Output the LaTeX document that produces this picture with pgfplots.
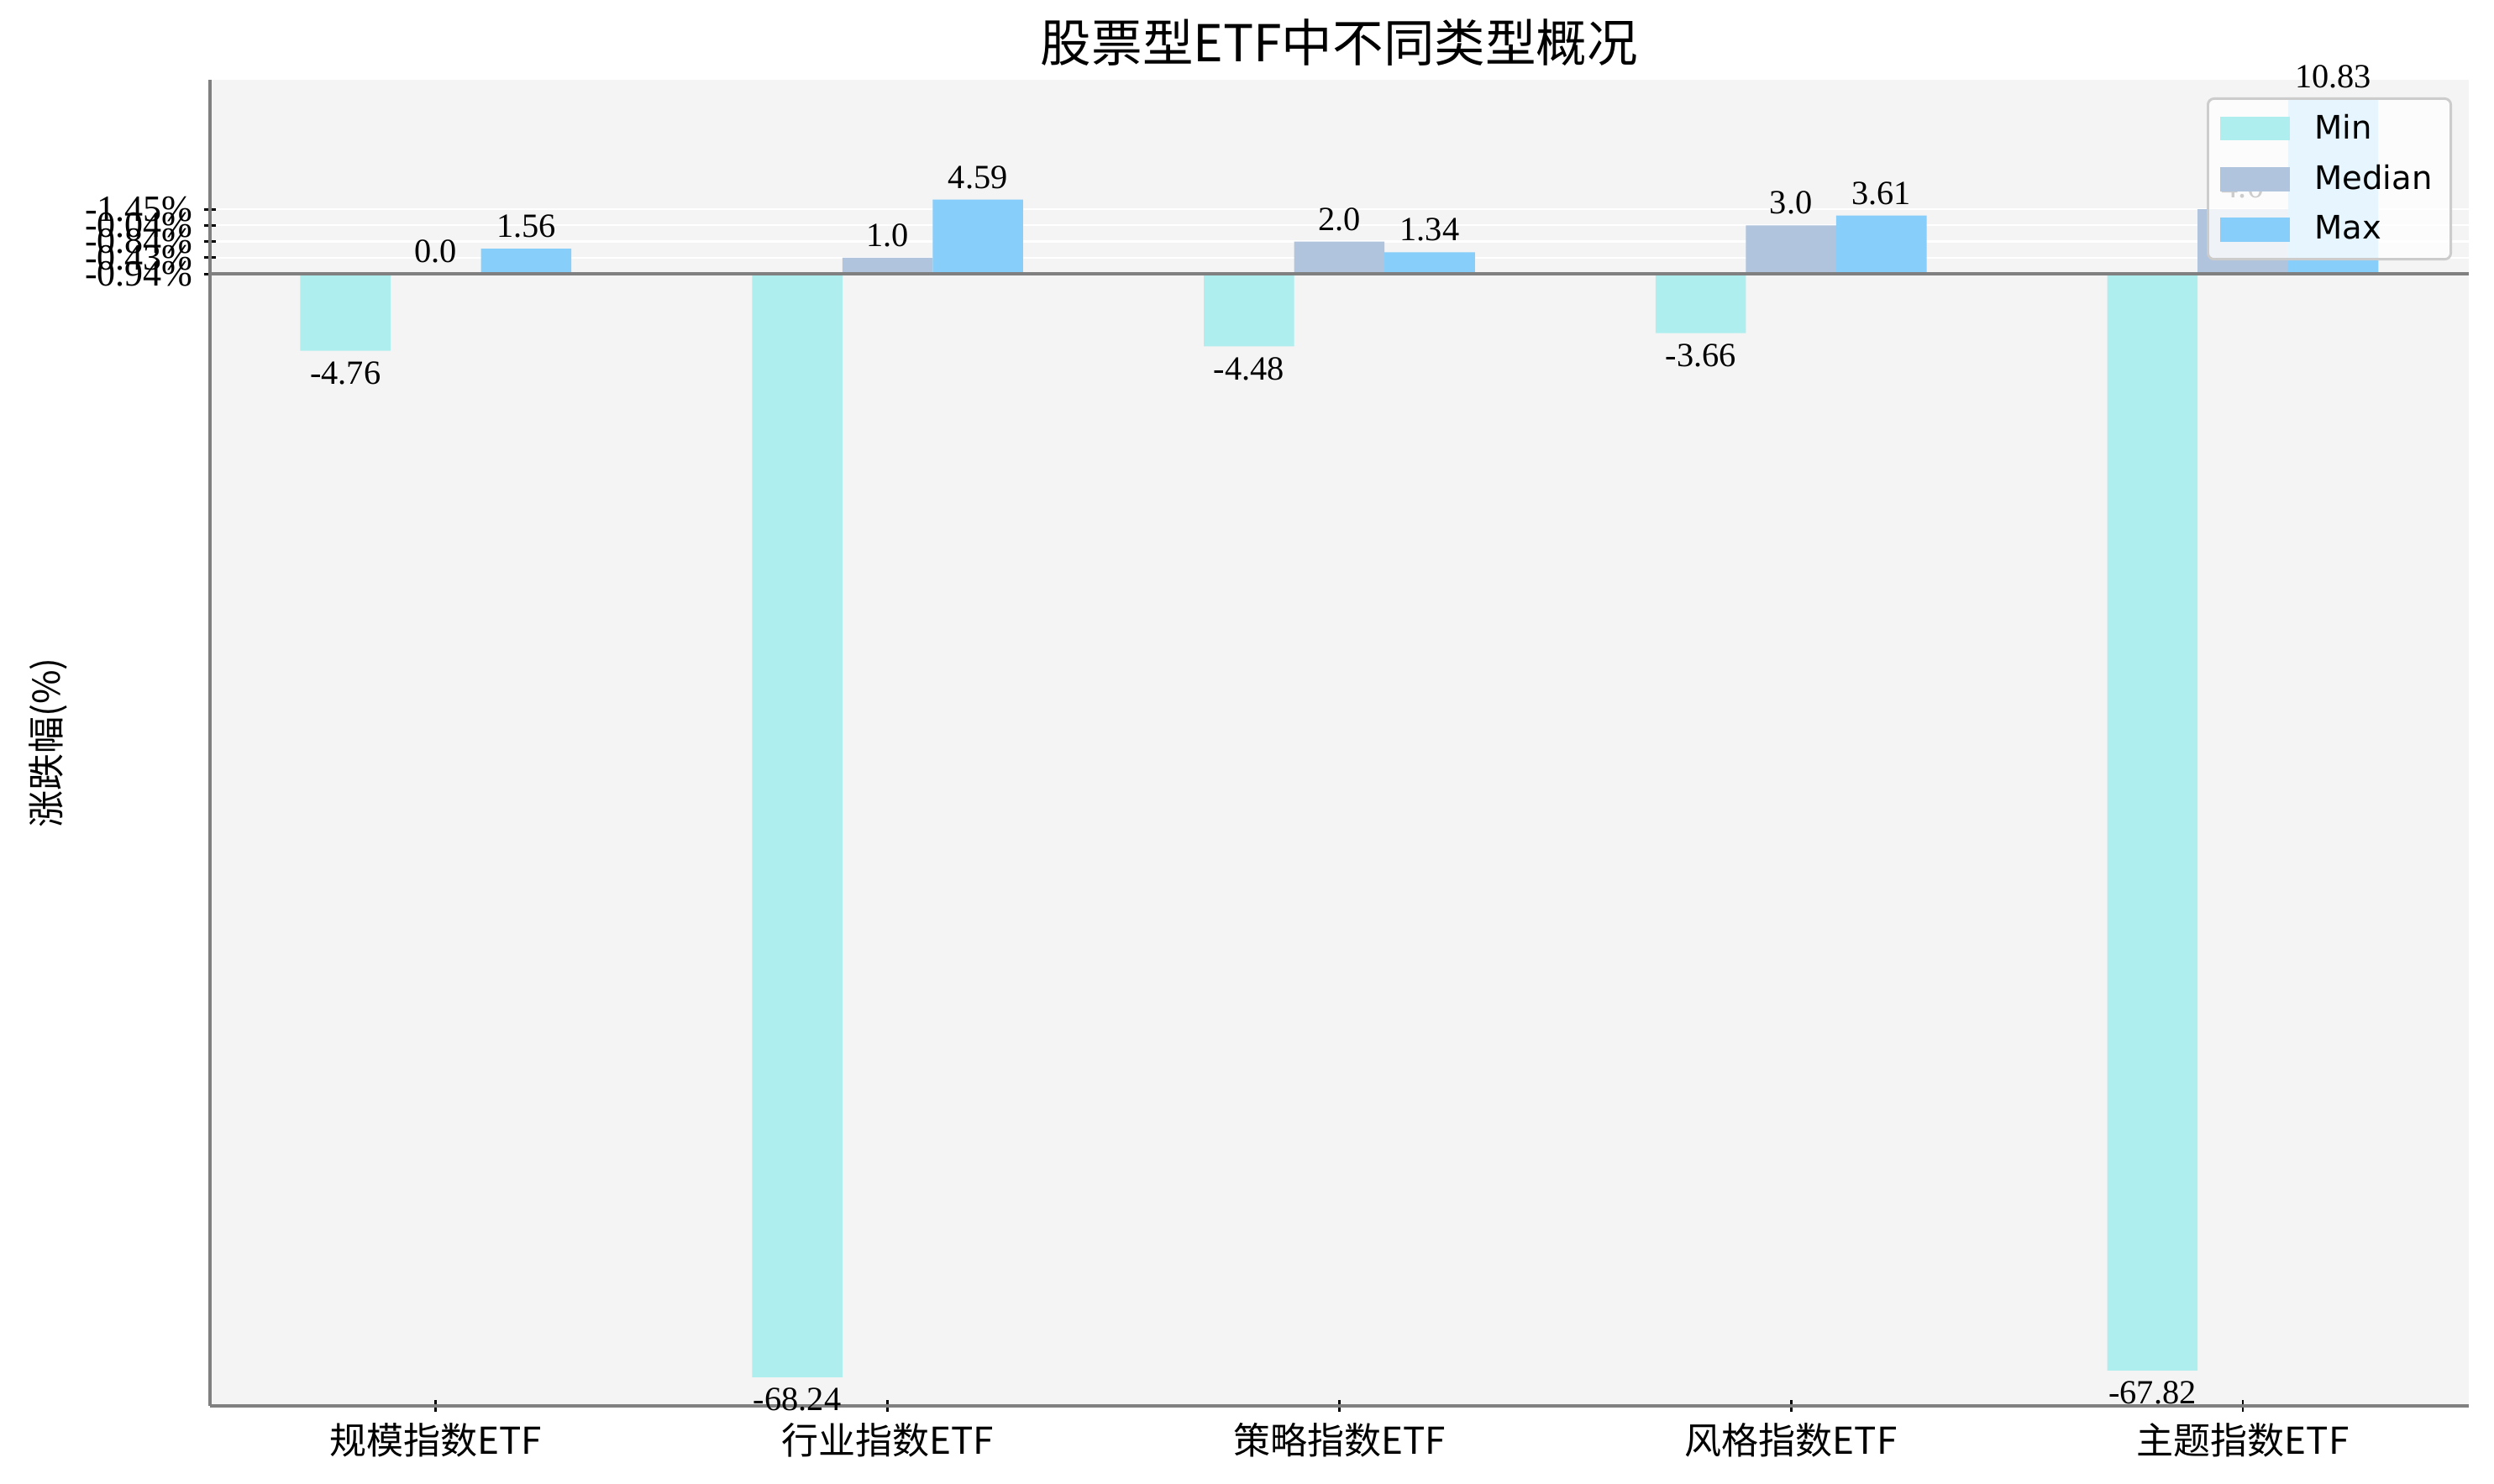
\documentclass[border=0pt]{standalone}
\usepackage{fontspec}
\setmainfont{Liberation Serif}
\newfontfamily\cjk{Noto Sans CJK SC}
\newfontfamily\legfont{DejaVu Sans}
\usepackage{pgfplots}
\pgfplotsset{compat=1.18}

\definecolor{minc}{HTML}{AFEEEE}
\definecolor{medc}{HTML}{B0C4DE}
\definecolor{maxc}{HTML}{87CEFA}
\definecolor{bgc}{HTML}{F4F4F4}
\definecolor{spine}{HTML}{808080}
\definecolor{legedge}{HTML}{CCCCCC}

\begin{document}
\begin{tikzpicture}
\useasboundingbox (-68.1pt,-25.3pt) rectangle (740.9pt,456.1pt);
\begin{axis}[
    at={(0,0)}, anchor=south west,
    scale only axis,
    width=732.7pt, height=430.2pt,
    xmin=-0.5, xmax=4.5, ymin=-70, ymax=12,
    ybar=0pt, bar width=0.2,
    clip=false,
    axis x line*=bottom, axis y line*=left,
    axis line style={-, draw=spine, line width=1.1pt},
    axis background/.style={fill=bgc},
    xtick={0,1,2,3,4},
    xticklabels={规模指数ETF,行业指数ETF,策略指数ETF,风格指数ETF,主题指数ETF},
    xticklabel style={font=\cjk\fontsize{12}{12}\selectfont},
    ytick={0,1,2,3,4},
    yticklabels={-0.94\%,-0.43\%,-0.84\%,-0.04\%,-1.45\%},
    yticklabel style={font=\fontsize{12}{12}\selectfont},
    tick align=center,
    major tick length=4pt,
    tick style={black, line width=0.8pt},
    ymajorgrids,
    grid style={white, line width=0.6pt},
    title={\cjk 股票型ETF中不同类型概况},
    title style={font=\fontsize{16.5}{16.5}\selectfont, at={(0.5,1)}, anchor=center, yshift=6pt},
    ylabel={\cjk 涨跌幅(\%)},
    ylabel style={font=\fontsize{12}{12}\selectfont, at={(axis description cs:-0.0718,0.5)}, anchor=center},
    every node near coord/.append style={font=\fontsize{11}{11}\selectfont, black},
    legend image code/.code={\fill[#1, sharp corners, fill opacity=1] (0pt,-3.9pt) rectangle (22.6pt,3.9pt);},
    legend style={at={(1,1)}, anchor=north east, xshift=-5.4pt, yshift=-5.7pt,
        draw=legedge, line width=0.8pt, rounded corners=2pt,
        fill=white, fill opacity=0.8, text opacity=1,
        font=\legfont\fontsize{10.5}{10.5}\selectfont,
        row sep=3pt, column sep=6pt, inner xsep=4pt, inner ysep=3pt,
        nodes={inner sep=2pt}},
    legend cell align=left,
]
% Min: all values negative, labels below the bar ends
\addplot[fill=minc, draw=none, point meta=y,
    nodes near coords={\pgfmathprintnumber[fixed,precision=2,assume math mode=true]{\pgfplotspointmeta}},
    nodes near coords align=vertical] coordinates {
    (0,-4.76)
    (1,-68.24)
    (2,-4.48)
    (3,-3.66)
    (4,-67.82)
};
\addlegendentry{Min}
\addplot[fill=medc, draw=none, point meta=explicit symbolic,
    nodes near coords={\pgfplotspointmeta}] coordinates {
    (0,0.0) [0.0]
    (1,1.0) [1.0]
    (2,2.0) [2.0]
    (3,3.0) [3.0]
    (4,4.0) [4.0]
};
\addlegendentry{Median}
\addplot[fill=maxc, draw=none, point meta=explicit symbolic,
    nodes near coords={\pgfplotspointmeta}] coordinates {
    (0,1.56) [1.56]
    (1,4.59) [4.59]
    (2,1.34) [1.34]
    (3,3.61) [3.61]
    (4,10.83) [10.83]
};
\addlegendentry{Max}
\draw[spine, line width=1pt] (axis cs:-0.5,0) -- (axis cs:4.5,0);
\end{axis}
\end{tikzpicture}
\end{document}
